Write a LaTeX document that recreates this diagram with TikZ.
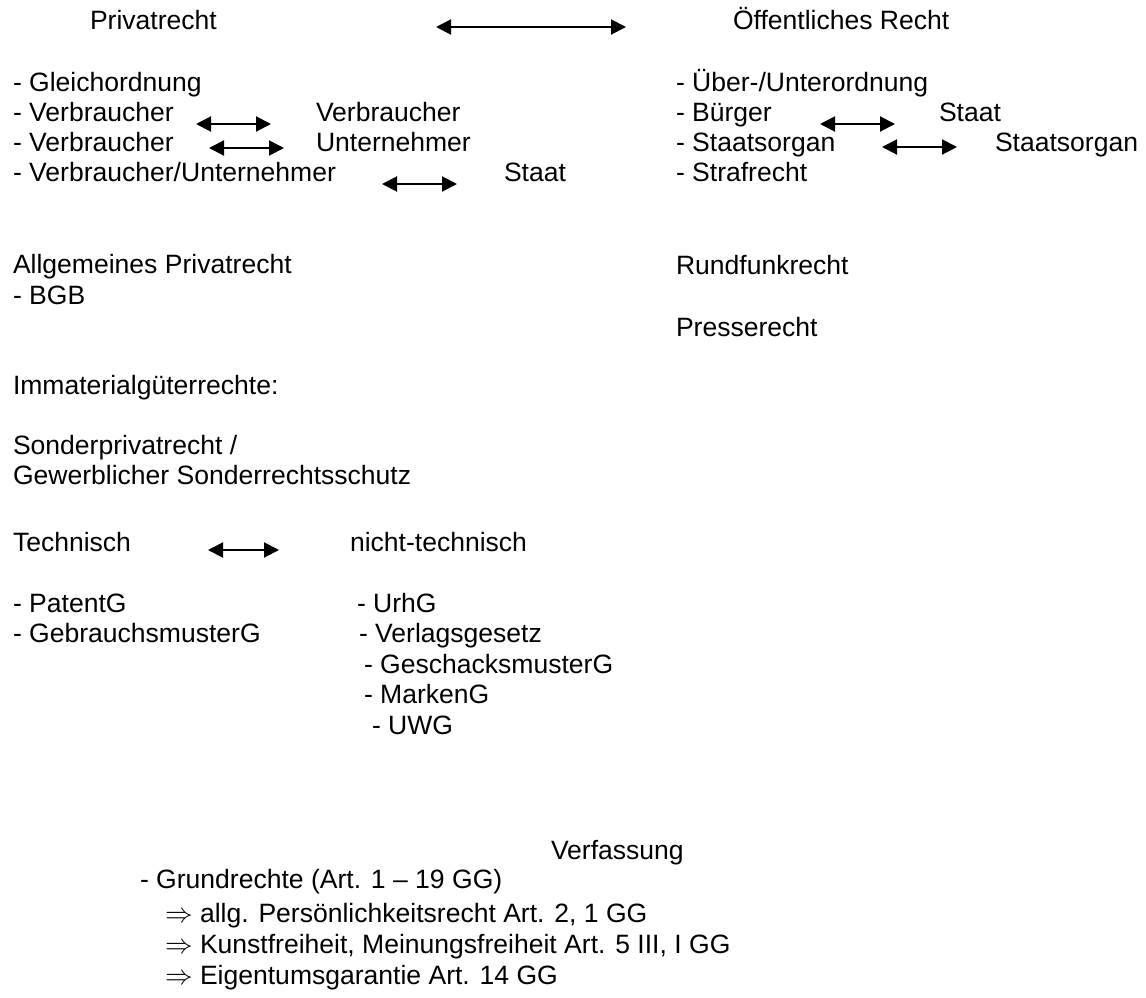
\documentclass[tikz,border=0pt]{standalone}
\usepackage{fontspec}
\setmainfont{Liberation Sans}
\usetikzlibrary{arrows.meta}
\tikzset{
  txt/.style={anchor=west, inner sep=0pt, outer sep=0pt, text height=0.716em, text depth=0pt,
    font=\fontsize{19.9pt}{23pt}\selectfont},
  dbl/.style={line width=1.5pt, {Triangle[length=11.25pt,width=11.25pt]}-{Triangle[length=11.25pt,width=11.25pt]}}
}
\begin{document}
\begin{tikzpicture}[x=0.75pt,y=-0.75pt]
\useasboundingbox (0,0) rectangle (1146,997);
% top
\node[txt] (priv) at (90,25) {Privatrecht};
\node[txt] (oeff) at (733,25) {Öffentliches Recht};
\coordinate (t1) at (436,27); \coordinate (t2) at (626,27);
\draw[dbl] (t1) -- (t2);
% left list
\node[txt] (gl) at (13,87) {- Gleichordnung};
\node[txt] (v1) at (13,117) {- Verbraucher};
\node[txt] (v1b) at (316,117) {Verbraucher};
\node[txt] (v2) at (13,147) {- Verbraucher};
\node[txt] (u2) at (316,147) {Unternehmer};
\node[txt] (vu) at (13,177) {- Verbraucher/Unternehmer};
\node[txt] (st1) at (504,177) {Staat};
\coordinate (a1) at (196,124); \coordinate (b1) at (271,124);
\coordinate (a2) at (209,148); \coordinate (b2) at (284,148);
\coordinate (a3) at (382,184); \coordinate (b3) at (457,184);
\draw[dbl] (a1) -- (b1);
\draw[dbl] (a2) -- (b2);
\draw[dbl] (a3) -- (b3);
% right list
\node[txt] (ue) at (676,87) {- Über-/Unterordnung};
\node[txt] (bu) at (676,117) {- Bürger};
\node[txt] (st2) at (939,117) {Staat};
\node[txt] (so1) at (676,147) {- Staatsorgan};
\node[txt] (so2) at (995,147) {Staatsorgan};
\node[txt] (sr) at (676,177) {- Strafrecht};
\coordinate (a4) at (820,124); \coordinate (b4) at (895,124);
\coordinate (a5) at (882,147); \coordinate (b5) at (957,147);
\draw[dbl] (a4) -- (b4);
\draw[dbl] (a5) -- (b5);
% middle
\node[txt] (ap) at (13,269) {Allgemeines Privatrecht};
\node[txt] (bgb) at (13,300) {- BGB};
\node[txt] (rf) at (676,270) {Rundfunkrecht};
\node[txt] (pr) at (676,332) {Presserecht};
\node[txt] (im) at (13,390) {Immaterialgüterrechte:};
\node[txt] (sp) at (13,450) {Sonderprivatrecht /};
\node[txt] (gs) at (13,480) {Gewerblicher Sonderrechtsschutz};
\node[txt] (te) at (13,547) {Technisch};
\node[txt] (nt) at (350,547) {nicht-technisch};
\coordinate (a6) at (208,550); \coordinate (b6) at (279,550);
\draw[dbl] (a6) -- (b6);
\node[txt] (pa) at (13,608) {- PatentG};
\node[txt] (gb) at (13,638) {- GebrauchsmusterG};
\node[txt] (ur) at (357,608) {- UrhG};
\node[txt] (vl) at (359,638) {- Verlagsgesetz};
\node[txt] (gm) at (364,669) {- GeschacksmusterG};
\node[txt] (mk) at (364,699) {- MarkenG};
\node[txt] (uw) at (372,730) {- UWG};
% bottom
\node[txt] (vf) at (551,855) {Verfassung};
\node[txt] (gr) at (140,884) {- Grundrechte (Art. 1 – 19 GG)};
\node[txt] (p1) at (165,918) {$\Rightarrow$\ allg. Persönlichkeitsrecht Art. 2, 1 GG};
\node[txt] (p2) at (165,949) {$\Rightarrow$\ Kunstfreiheit, Meinungsfreiheit Art. 5 III, I GG};
\node[txt] (p3) at (165,980) {$\Rightarrow$\ Eigentumsgarantie Art. 14 GG};
\end{tikzpicture}
\end{document}
